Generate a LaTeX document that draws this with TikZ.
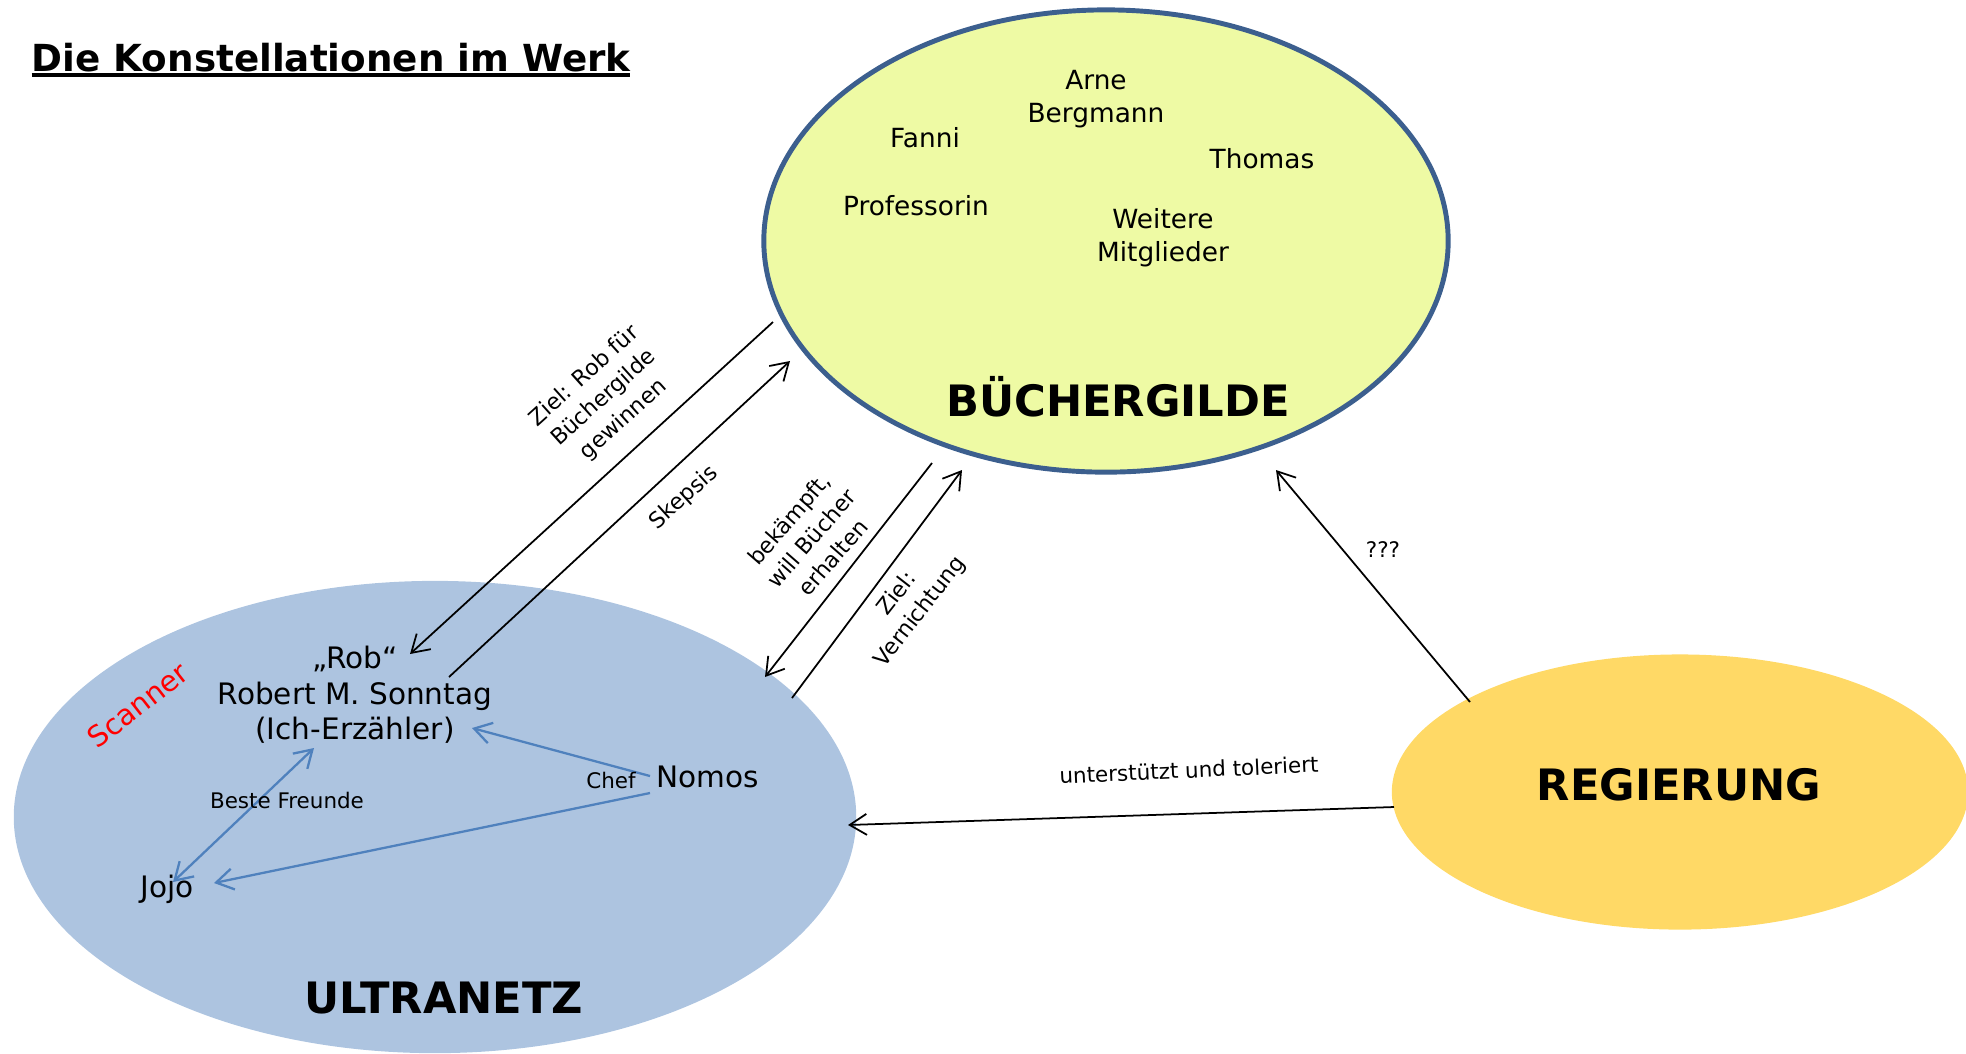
\documentclass[tikz,border=0pt]{standalone}
\usepackage{fontspec}
\setmainfont{DejaVu Sans}
\usetikzlibrary{arrows.meta,shapes.geometric}
\definecolor{gilde_fill}{RGB}{238,250,164}
\definecolor{gilde_line}{RGB}{60,95,142}
\definecolor{netz_fill}{RGB}{173,196,224}
\definecolor{regierung_fill}{RGB}{255,217,102}
\definecolor{netz_blue}{RGB}{79,129,189}
\newcommand{\titleline}[1]{\setbox0\hbox{#1}\rlap{\vrule width\wd0 height -0.6pt depth 1.8pt}\box0}

\begin{document}
\begin{tikzpicture}[x=0.01cm,y=-0.01cm,>={Straight Barb[length=1.7mm,width=2.1mm]}]
    \tikzstyle{group}=[ellipse, inner sep=0pt, outer sep=0pt]
    \tikzstyle{grouptitle}=[font=\bfseries\fontsize{12.3}{14}\selectfont, inner sep=0pt]
    \tikzstyle{member}=[font=\fontsize{7.5}{9.4}\selectfont, align=center, inner sep=0pt]
    \tikzstyle{person}=[font=\fontsize{8.4}{10.1}\selectfont, align=center, inner sep=0pt]
    \tikzstyle{rel}=[font=\fontsize{6.3}{8.3}\selectfont, align=center, inner sep=0pt]
    \tikzstyle{small}=[font=\fontsize{6.1}{7.3}\selectfont, inner sep=0pt]
    \tikzstyle{conn}=[->, line width=0.5pt]
    \tikzstyle{inner}=[->, line width=0.65pt, netz_blue]

    \useasboundingbox (0,0) rectangle (1966,1053);
    \clip (0,0) rectangle (1966,1053);

    % die drei Gruppen
    \node[group, fill=gilde_fill, draw=gilde_line, line width=1.4pt, minimum width=6.84cm, minimum height=4.62cm] (gilde) at (1106,241) {};
    \node[group, fill=netz_fill, minimum width=8.42cm, minimum height=4.72cm] (netz) at (435,817) {};
    \node[group, fill=regierung_fill, minimum width=5.76cm, minimum height=2.75cm] (regierung) at (1680,792) {};

    \node[anchor=base west, font=\bfseries\fontsize{10.6}{13}\selectfont, inner sep=0pt] (title) at (31,71) {\titleline{Die Konstellationen im Werk}};

    \node[grouptitle, anchor=base] (t_gilde) at (1118,416) {BÜCHERGILDE};
    \node[grouptitle, anchor=base] (t_netz) at (444,1013) {ULTRANETZ};
    \node[grouptitle, anchor=base] (t_regierung) at (1679,800) {REGIERUNG};

    % Mitglieder der Buechergilde
    \node[member] (arne) at (1096,99) {Arne\\Bergmann};
    \node[member, anchor=base] (fanni) at (925,147) {Fanni};
    \node[member, anchor=base] (thomas) at (1262,168) {Thomas};
    \node[member, anchor=base] (prof) at (916,215) {Professorin};
    \node[member] (weitere) at (1163,238) {Weitere\\Mitglieder};

    % Ultranetz
    \node[person] (rob) at (355,695) {„Rob“\\Robert M. Sonntag\\(Ich-Erzähler)};
    \node[person, anchor=base] (nomos) at (708,787) {Nomos};
    \node[person, anchor=base] (jojo) at (167,897) {Jojo};
    \node[font=\fontsize{8.2}{10}\selectfont, text=red, rotate=38, inner sep=0pt] (scanner) at (138,705) {Scanner};

    \coordinate (gilde_a) at (773,322);  \coordinate (rob_a) at (410,654);
    \coordinate (rob_b) at (449,677);    \coordinate (gilde_b) at (790,361);
    \coordinate (gilde_c) at (932,463);  \coordinate (netz_c) at (765,677);
    \coordinate (netz_d) at (792,698);   \coordinate (gilde_d) at (962,470);
    \coordinate (reg_e) at (1470,702);   \coordinate (gilde_e) at (1276,470);
    \coordinate (reg_f) at (1394,807);   \coordinate (netz_f) at (848,825);
    \coordinate (nomos_a) at (650,776);  \coordinate (rob_c) at (472,728);
    \coordinate (nomos_b) at (650,793);  \coordinate (jojo_a) at (214,883);
    \coordinate (rob_d) at (314,748);    \coordinate (jojo_b) at (173,882);

    \path
     (gilde_a) edge[conn] (rob_a)
     (rob_b)   edge[conn] (gilde_b)
     (gilde_c) edge[conn] (netz_c)
     (netz_d)  edge[conn] (gilde_d)
     (reg_e)   edge[conn] (gilde_e)
     (reg_f)   edge[conn] (netz_f)
     (nomos_a) edge[inner] (rob_c)
     (nomos_b) edge[inner] (jojo_a)
     (rob_d)   edge[inner, <->] (jojo_b)
     ;

    \node[rel, rotate=42] (l_gewinnen) at (604,398) {Ziel: Rob für\\Büchergilde\\gewinnen};
    \node[rel, rotate=42] (l_skepsis) at (684,498) {Skepsis};
    \node[rel, rotate=49] (l_kampf) at (811,538) {bekämpft,\\will Bücher\\erhalten};
    \node[rel, rotate=52] (l_vernichtung) at (909,603) {Ziel:\\Vernichtung};
    \node[small] (l_fragen) at (1383,550) {???};
    \node[small, rotate=2.6] (l_unterstuetzt) at (1189,770) {unterstützt und toleriert};
    \node[small, anchor=base] (l_chef) at (611,788) {Chef};
    \node[small, anchor=base] (l_freunde) at (287,808) {Beste Freunde};
\end{tikzpicture}
\end{document}
